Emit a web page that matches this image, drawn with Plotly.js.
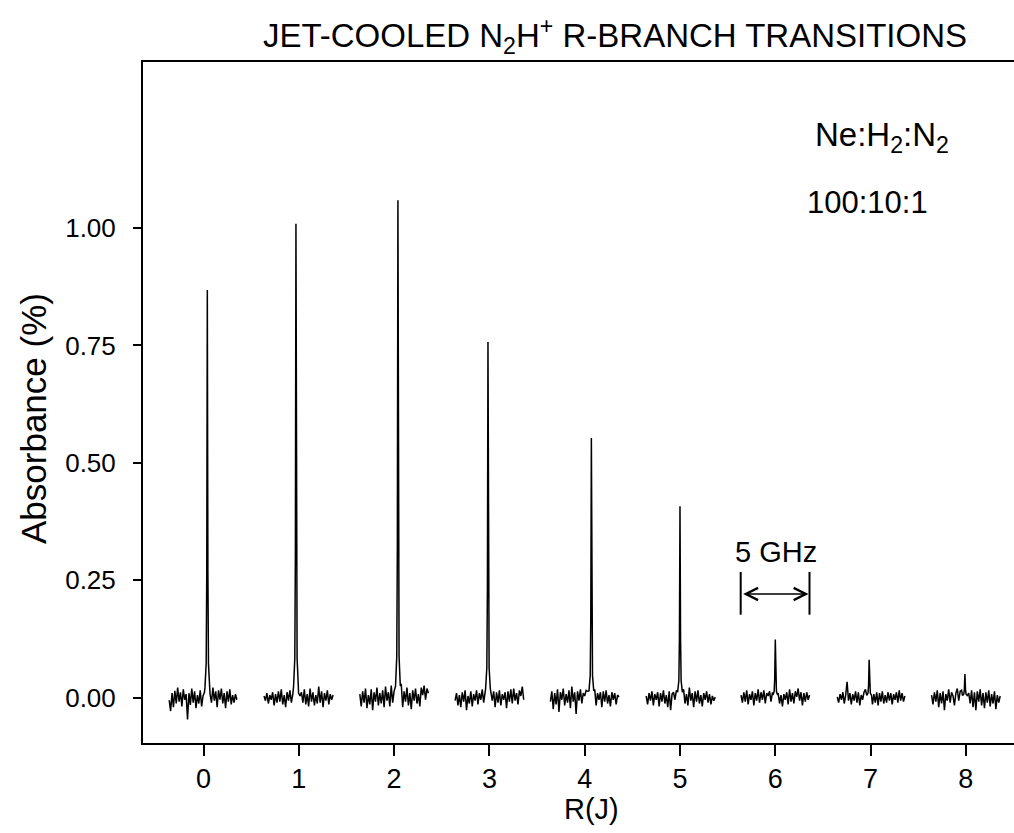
<!DOCTYPE html>
<html>
<head>
<meta charset="utf-8">
<script src="https://cdn.plot.ly/plotly-3.0.1.min.js"></script>
<style>html,body{margin:0;padding:0;background:#fff;}#chart{width:1014px;height:833px;}</style>
</head>
<body>
<div id="chart"></div>
<script>
// ---- data ----
const transitions = ["R(0)","R(1)","R(2)","R(3)","R(4)","R(5)","R(6)","R(7)","R(8)"];
const segStart = [-0.36, 0.635, 1.64, 2.64, 3.64, 4.645, 5.64, 6.65, 7.64];
const segEnd   = [ 0.35, 1.36,  2.36, 3.36, 4.36, 5.37,  6.36, 7.36, 8.36];
const peakPos    = [0.04, 0.97, 2.04, 2.985, 4.07, 5.0, 6.0, 6.985, 7.99];
const peakHeight = [0.864, 1.005, 1.055, 0.753, 0.549, 0.404, 0.12, 0.077, 0.047];
// peak line profile (offset in R(J) units, fraction of peak height)
const peakOffsets  = [-0.025, -0.012, -0.006, 0, 0.006, 0.012, 0.025];
const peakFraction = [0.02, 0.08, 0.30, 1, 0.30, 0.08, 0.02];

const noiseR0 = [-0.005,-0.028,0.010,-0.020,0.015,-0.012,0.022,-0.008,0.012,-0.018,0.018,-0.004,0.008,-0.046,0.010,-0.015,0.020,-0.010,0.014,-0.022,0.006,-0.012,0.016,-0.018,0.004,0.012,0.018,0.020,0.015,0.008,-0.010,0.022,-0.006,0.014,-0.020,0.016,-0.004,0.020,-0.012,0.010,-0.022,0.014,-0.008,0.018,-0.014,0.006,-0.010,0.008,-0.004];
const noiseR1 = [0.004,-0.006,0.010,-0.012,0.006,-0.004,0.012,-0.016,0.008,-0.010,0.014,-0.008,0.018,-0.014,0.006,-0.020,0.012,-0.006,0.016,-0.010,0.008,-0.012,0.022,-0.004,0.010,0.004,0.012,-0.010,0.018,-0.014,0.008,-0.018,0.020,-0.008,0.012,-0.016,0.006,-0.012,0.024,-0.010,0.014,-0.020,0.010,-0.006,0.016,-0.014,0.008,-0.004,0.006];
const noiseR2 = [0.008,-0.018,0.014,-0.010,0.020,-0.022,0.006,-0.014,0.018,-0.026,0.012,-0.008,0.022,-0.016,0.010,-0.012,0.016,-0.020,0.024,-0.006,0.012,-0.018,0.026,-0.010,0.014,0.020,0.018,0.006,-0.012,0.030,-0.020,0.014,-0.008,0.022,-0.016,0.010,-0.024,0.016,-0.006,0.020,-0.012,0.008,-0.018,0.022,0.006,0.026,-0.004,0.020,0.010];
const noiseR3 = [-0.006,0.010,-0.016,0.006,-0.020,0.012,-0.008,0.016,-0.026,0.004,-0.012,0.014,-0.018,0.008,-0.006,0.016,-0.014,0.010,-0.004,0.018,-0.010,0.012,0.004,0.008,-0.018,0.010,-0.006,0.014,-0.020,0.012,-0.010,0.016,-0.016,0.008,-0.004,0.012,-0.022,0.014,-0.008,0.018,-0.012,0.020,-0.006,0.010,-0.014,0.016,0.004,0.024,-0.004];
const noiseR4 = [-0.008,0.014,-0.024,0.010,-0.014,0.018,-0.030,0.012,-0.004,0.020,-0.016,0.008,-0.010,0.016,-0.022,0.024,-0.008,0.012,-0.034,0.014,-0.006,0.018,-0.012,0.010,0.004,0.016,0.014,0.018,0.020,0.016,-0.010,0.018,-0.016,0.010,-0.004,0.012,-0.020,0.014,-0.008,0.016,-0.012,0.006,-0.018,0.012,-0.004,0.010,-0.014,0.006,0.002];
const noiseR5 = [0.004,-0.014,0.010,-0.006,0.014,-0.016,0.008,-0.004,0.012,-0.018,0.010,-0.008,0.016,-0.012,0.006,-0.020,0.014,-0.026,0.008,0.012,-0.004,0.016,0.018,0.006,0.014,-0.010,0.018,-0.012,0.008,-0.016,0.022,-0.006,0.010,-0.020,0.014,-0.008,0.016,-0.012,0.006,-0.018,0.010,-0.004,0.014,-0.010,0.008,-0.014,0.004,-0.006,0.002];
const noiseR6 = [0.006,-0.010,0.012,-0.008,0.016,-0.014,0.008,-0.004,0.014,-0.016,0.010,-0.006,0.018,-0.010,0.012,-0.004,0.016,-0.012,0.010,0.004,0.014,-0.008,0.012,0.010,-0.006,-0.016,0.010,-0.012,0.006,-0.018,0.008,-0.004,0.012,-0.014,0.018,-0.008,0.010,-0.012,0.014,0.002,0.020,-0.006,0.012,-0.016,0.010,-0.008,0.012,-0.004,0.006];
const noiseR7 = [0.002,-0.010,0.008,-0.004,0.012,-0.012,0.006,0.034,-0.006,0.010,-0.014,0.008,-0.006,0.014,-0.010,0.012,-0.016,0.006,-0.004,0.012,0.018,0.010,0.006,-0.008,0.012,-0.014,0.008,-0.010,0.012,-0.016,0.010,-0.008,0.014,-0.012,0.006,-0.010,0.012,-0.006,0.010,-0.014,0.008,-0.004,0.012,-0.010,0.016,-0.006,0.010,-0.008,0.004];
const noiseR8 = [0.006,-0.014,0.012,-0.008,0.016,-0.020,0.010,-0.012,0.014,-0.026,0.008,-0.006,0.018,-0.010,0.012,0.004,-0.016,0.010,0.020,-0.006,0.014,0.016,0.012,-0.004,0.014,-0.018,0.010,-0.012,0.016,-0.020,0.012,-0.026,0.014,-0.008,0.018,-0.016,0.010,-0.022,0.012,-0.010,0.016,-0.018,0.008,-0.012,0.014,-0.024,0.006,-0.010,0.004];
const noiseSegments = [noiseR0,noiseR1,noiseR2,noiseR3,noiseR4,noiseR5,noiseR6,noiseR7,noiseR8];

const xTickVals = [0,1,2,3,4,5,6,7,8];
const yTickVals = [0,0.25,0.5,0.75,1.0];
const scaleBar = {x0: 5.637, x1: 6.359, y: 0.221, yLow: 0.177, yHigh: 0.268, label: "5 GHz"};

// ---- build trace ----
const xs = [], ys = [];
noiseSegments.forEach((noise, k) => {
  const n = noise.length;
  const step = (segEnd[k] - segStart[k]) / (n - 1);
  let pts = noise.map((v, i) => [segStart[k] + i * step, v])
                 .filter(p => Math.abs(p[0] - peakPos[k]) > 0.026);
  peakOffsets.forEach((off, j) => pts.push([peakPos[k] + off, 0.004 + peakFraction[j] * peakHeight[k]]));
  pts.sort((a, b) => a[0] - b[0]);
  pts.forEach(p => { xs.push(p[0]); ys.push(p[1]); });
  xs.push(null); ys.push(null);
});

const FONT = "Liberation Sans, Arial, Helvetica, sans-serif";
const trace = {
  x: xs, y: ys, type: "scatter", mode: "lines",
  line: {color: "#000", width: 1.5}, connectgaps: false,
  hoverinfo: "skip", showlegend: false
};

const layout = {
  width: 1014, height: 833,
  margin: {l: 143, r: 0, t: 62, b: 90, autoexpand: false},
  paper_bgcolor: "#fff", plot_bgcolor: "#fff",
  font: {family: FONT, color: "#000", size: 26},
  title: {
    text: "JET-COOLED N<sub>2</sub>H<sup>+</sup> R-BRANCH TRANSITIONS",
    font: {family: FONT, size: 33, color: "#000"},
    xref: "container", x: 0.6065, xanchor: "center",
    yref: "container", y: 0.957, yanchor: "middle"
  },
  xaxis: {
    range: [-0.635, 8.505], tickvals: xTickVals, ticktext: xTickVals.map(String),
    ticks: "outside", ticklen: 11, tickwidth: 2, tickcolor: "#000",
    showline: true, linewidth: 2, linecolor: "#000", mirror: true,
    showgrid: false, zeroline: false,
    tickfont: {family: FONT, size: 27, color: "#000"}
  },
  yaxis: {
    range: [-0.096, 1.353], tickvals: yTickVals, tickformat: ".2f",
    ticks: "outside", ticklen: 8, tickwidth: 2, tickcolor: "#000",
    showline: true, linewidth: 2, linecolor: "#000", mirror: false,
    showgrid: false, zeroline: false,
    tickfont: {family: FONT, size: 26, color: "#000"},
    ticklabelstandoff: 12
  },
  shapes: [
    {type: "line", xref: "x", yref: "y", x0: scaleBar.x0, x1: scaleBar.x0, y0: scaleBar.yLow, y1: scaleBar.yHigh, line: {color: "#000", width: 2}},
    {type: "line", xref: "x", yref: "y", x0: scaleBar.x1, x1: scaleBar.x1, y0: scaleBar.yLow, y1: scaleBar.yHigh, line: {color: "#000", width: 2}}
  ],
  annotations: [
    {xref: "x", yref: "y", x: scaleBar.x1, y: scaleBar.y, ax: scaleBar.x0, ay: scaleBar.y,
     axref: "x", ayref: "y", text: "", showarrow: true, arrowhead: 5, startarrowhead: 5,
     arrowside: "end+start", arrowsize: 1.6, arrowwidth: 1.5, arrowcolor: "#000", standoff: 1, startstandoff: 1},
    {xref: "x", yref: "y", x: (scaleBar.x0 + scaleBar.x1) / 2 + 0.01, y: scaleBar.yHigh + 0.005, yanchor: "bottom",
     text: scaleBar.label, showarrow: false, font: {family: FONT, size: 29, color: "#000"}},
    {xref: "paper", yref: "paper", x: (882 - 143) / 871, y: (743 - 137) / 681, xanchor: "center", yanchor: "middle",
     text: "Ne:H<sub>2</sub>:N<sub>2</sub>", showarrow: false, font: {family: FONT, size: 33, color: "#000"}},
    {xref: "paper", yref: "paper", x: (867 - 143) / 871, y: (743 - 202) / 681, xanchor: "center", yanchor: "middle",
     text: "100:10:1", showarrow: false, font: {family: FONT, size: 31, color: "#000"}},
    // axis titles
    {xref: "paper", yref: "paper", x: (591 - 143) / 871, y: (743 - 809) / 681, xanchor: "center", yanchor: "middle",
     text: "R(J)", showarrow: false, font: {family: FONT, size: 29, color: "#000"}},
    {xref: "paper", yref: "paper", x: (33 - 143) / 871, y: (743 - 419) / 681, xanchor: "center", yanchor: "middle",
     text: "Absorbance (%)", textangle: -90, showarrow: false, font: {family: FONT, size: 35, color: "#000"}}
  ]
};

Plotly.newPlot("chart", [trace], layout, {staticPlot: true, displayModeBar: false});
</script>
</body>
</html>
